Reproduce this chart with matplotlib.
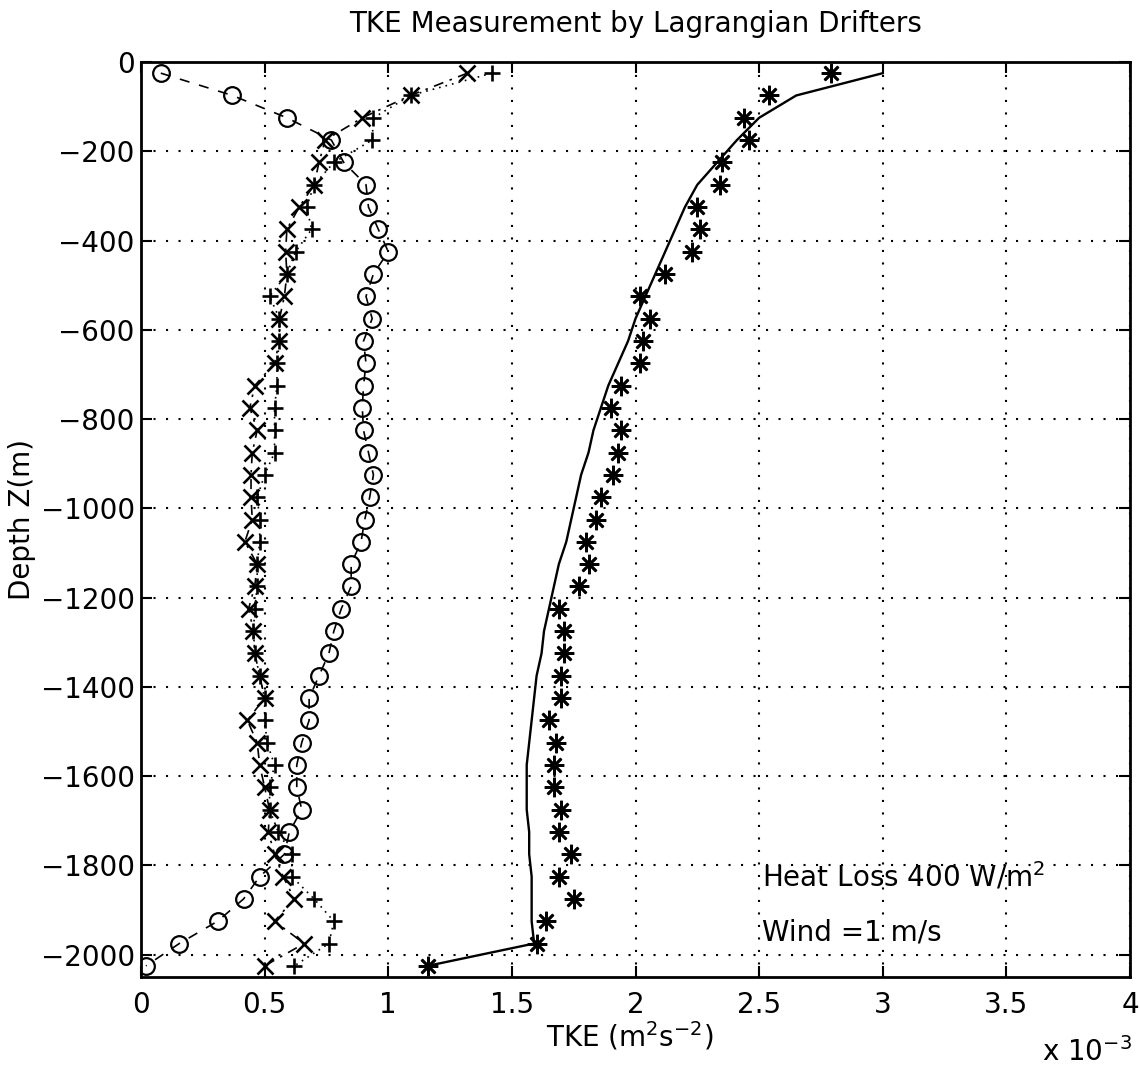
import numpy as np
import matplotlib
matplotlib.use("Agg")
import matplotlib.pyplot as plt
from matplotlib.ticker import FuncFormatter

plt.rcParams["font.family"] = ["DejaVu Sans"]
plt.rcParams["mathtext.fontset"] = "dejavusans"

# =========================
# DATA (TKE in units of 1e-3 m^2 s^-2)
# =========================
depth = [-25, -75, -125, -175, -225, -275, -325, -375, -425, -475,
         -525, -575, -625, -675, -725, -775, -825, -875, -925, -975,
         -1025, -1075, -1125, -1175, -1225, -1275, -1325, -1375, -1425, -1475,
         -1525, -1575, -1625, -1675, -1725, -1775, -1825, -1875, -1925, -1975,
         -2025]

tke_circle = [0.08, 0.37, 0.59, 0.77, 0.82, 0.91, 0.92, 0.96, 1.00, 0.94,
              0.91, 0.935, 0.90, 0.91, 0.90, 0.895, 0.90, 0.92, 0.94, 0.925,
              0.905, 0.89, 0.85, 0.85, 0.81, 0.78, 0.76, 0.72, 0.68, 0.68,
              0.65, 0.63, 0.63, 0.65, 0.60, 0.58, 0.48, 0.415, 0.31, 0.155,
              0.02]

tke_cross = [1.32, 1.09, 0.895, 0.745, 0.72, 0.70, 0.64, 0.59, 0.585, 0.59,
             0.58, 0.56, 0.56, 0.54, 0.46, 0.44, 0.47, 0.45, 0.445, 0.445,
             0.45, 0.42, 0.47, 0.46, 0.435, 0.455, 0.46, 0.48, 0.50, 0.43,
             0.47, 0.48, 0.50, 0.52, 0.515, 0.54, 0.575, 0.62, 0.54, 0.66,
             0.50]

tke_plus = [1.42, 1.09, 0.94, 0.935, 0.78, 0.70, 0.67, 0.69, 0.625, 0.59,
            0.52, 0.56, 0.56, 0.55, 0.55, 0.54, 0.54, 0.54, 0.50, 0.47,
            0.48, 0.48, 0.47, 0.47, 0.46, 0.455, 0.46, 0.48, 0.50, 0.50,
            0.51, 0.54, 0.52, 0.52, 0.555, 0.61, 0.61, 0.70, 0.78, 0.76,
            0.62]

tke_star = [2.79, 2.54, 2.44, 2.46, 2.35, 2.34, 2.25, 2.26, 2.23, 2.12,
            2.02, 2.06, 2.03, 2.02, 1.94, 1.90, 1.94, 1.93, 1.91, 1.86,
            1.84, 1.80, 1.81, 1.77, 1.69, 1.71, 1.71, 1.70, 1.70, 1.65,
            1.68, 1.67, 1.67, 1.70, 1.69, 1.74, 1.69, 1.75, 1.64, 1.60,
            1.16]

tke_model = [3.00, 2.65, 2.50, 2.41, 2.33, 2.25, 2.20, 2.16, 2.12, 2.08,
             2.04, 2.00, 1.97, 1.93, 1.89, 1.86, 1.83, 1.81, 1.78, 1.76,
             1.74, 1.72, 1.69, 1.67, 1.65, 1.63, 1.62, 1.60, 1.59, 1.58,
             1.57, 1.56, 1.56, 1.56, 1.57, 1.57, 1.58, 1.58, 1.58, 1.59,
             1.16]

x_ticks = [0, 0.5, 1, 1.5, 2, 2.5, 3, 3.5, 4]
y_ticks = [0, -200, -400, -600, -800, -1000, -1200, -1400, -1600, -1800, -2000]

FS = 20
W, H = 1140, 1075


def tick_fmt(v, pos):
    return f"{v:g}".replace("-", "\u2212")


# =========================
# PLOT
# =========================
fig = plt.figure(figsize=(W / 100, H / 100), dpi=100)
ax = fig.add_axes([141 / W, 1 - 977 / H, (1130 - 141) / W, (977 - 62) / H])

ax.plot(tke_circle, depth, color="k", linestyle=(0, (6, 6)), linewidth=1.2,
        marker="o", markersize=12, markerfacecolor="none", markeredgewidth=1.6)
ax.plot(tke_cross, depth, color="k", linestyle=(0, (6, 4, 1.5, 4)), linewidth=1.2,
        marker="x", markersize=12, markeredgewidth=1.9)
ax.plot(tke_plus, depth, color="k", linestyle=(0, (1, 3)), linewidth=1.2,
        marker="+", markersize=12, markeredgewidth=1.9)
ax.plot(tke_star, depth, color="k", linestyle="none",
        marker=(8, 2, 0), markersize=14, markeredgewidth=1.9)
ax.plot(tke_model, depth, color="k", linestyle="-", linewidth=1.7)

ax.set_xlim(0, 4)
ax.set_ylim(-2050, 0)
ax.set_xticks(x_ticks)
ax.set_yticks(y_ticks)
ax.xaxis.set_major_formatter(FuncFormatter(tick_fmt))
ax.yaxis.set_major_formatter(FuncFormatter(tick_fmt))

ax.grid(True, color="k", linestyle=(0, (1, 5)), linewidth=1.5)
ax.tick_params(direction="in", length=8, width=1.5, labelsize=FS,
               top=True, right=True)
ax.tick_params(axis="x", pad=10)
ax.tick_params(axis="y", pad=4.5)
for sp in ax.spines.values():
    sp.set_linewidth(2)

fig.text(636 / W, 1 - 24 / H, "TKE Measurement by Lagrangian Drifters",
         ha="center", va="center", fontsize=FS)
fig.text(630 / W, 1 - 1036 / H, "TKE (m$^{2}$s$^{-2}$)",
         ha="center", va="center", fontsize=FS)
fig.text(22 / W, 1 - 520 / H, "Depth Z(m)", rotation=90,
         ha="center", va="center", fontsize=FS)
fig.text(1132 / W, 1 - 1052 / H, "x 10$^{-3}$",
         ha="right", va="center", fontsize=FS)

ax.text(2.51, -1825, "Heat Loss 400 W/m$^{2}$", ha="left", va="center", fontsize=FS)
ax.text(2.51, -1950, "Wind =1 m/s", ha="left", va="center", fontsize=FS)

fig.savefig("out.png", dpi=100)
